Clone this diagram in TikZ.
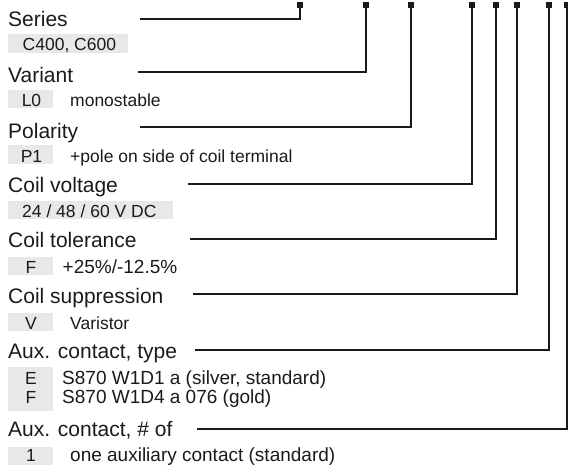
\documentclass[tikz,border=0pt]{standalone}
\usepackage{fontspec}
\setmainfont{Liberation Sans}
\definecolor{ink}{HTML}{1A1A1A}
\definecolor{boxgray}{HTML}{E8E8EA}
\begin{document}
\begin{tikzpicture}[x=1pt,y=-1pt,
  title/.style={anchor=base west,inner sep=0pt,font=\fontsize{21}{25}\selectfont,text=ink},
  sub/.style={anchor=base west,inner sep=0pt,font=\fontsize{17.5}{21}\selectfont,text=ink},
  subwide/.style={anchor=base west,inner sep=0pt,font=\fontsize{19}{22}\selectfont,text=ink},
  code/.style={anchor=base,inner sep=0pt,font=\fontsize{17.5}{21}\selectfont,text=ink},
  marker/.style={rectangle,fill=ink,draw=none,minimum size=6pt,inner sep=0pt},
  lead/.style={draw=ink,line width=1.2pt},
  codebox/.style={fill=boxgray,draw=none}]
\useasboundingbox (0,0) rectangle (568,466);

% grey code boxes
\fill[codebox] (8,33.5) rectangle (128,52.7);
\fill[codebox] (8,89.5) rectangle (53,108.3);
\fill[codebox] (8,145) rectangle (53,163.5);
\fill[codebox] (8,200.7) rectangle (173,219.3);
\fill[codebox] (8,256.7) rectangle (53,274.5);
\fill[codebox] (8,312.7) rectangle (53,330.5);
\fill[codebox] (8,367) rectangle (53,410.7);
\fill[codebox] (8,446.5) rectangle (53,465);

% titles
\node[title] (t1) at (8,26) {Series};
\node[title] (t2) at (8,82) {Variant};
\node[title] (t3) at (8,138) {Polarity};
\node[title] (t4) at (8,192) {Coil voltage};
\node[title] (t5) at (8,247.3) {Coil tolerance};
\node[title] (t6) at (8,303) {Coil suppression};
\node[title] (t7) at (8,358) {Aux. contact, type};
\node[title] (t8) at (8,436.5) {Aux. contact, \# of};

% codes and descriptions
\node[sub] (c1) at (22.5,50.3) {C400, C600};
\node[code] (c2) at (31.5,106.5) {L0};
\node[sub] (d2) at (70,106.5) {monostable};
\node[code] (c3) at (31.5,162) {P1};
\node[sub] (d3) at (70,162) {+pole on side of coil terminal};
\node[sub] (c4) at (22,217.7) {24 / 48 / 60 V DC};
\node[code] (c5) at (31,273.7) {F};
\node[subwide] (d5) at (62.5,273.7) {+25\%/-12.5\%};
\node[code] (c6) at (31,329.7) {V};
\node[sub] (d6) at (70,329.7) {Varistor};
\node[code] (c7a) at (31,384) {E};
\node[subwide] (d7a) at (62,384) {S870 W1D1 a (silver, standard)};
\node[code] (c7b) at (31,403) {F};
\node[subwide] (d7b) at (62,403) {S870 W1D4 a 076 (gold)};
\node[code] (c8) at (31,461.5) {1};
\node[subwide] (d8) at (70,461.5) {one auxiliary contact (standard)};

% markers
\node[marker] (s1) at (300,5) {};
\node[marker] (s2) at (366,5) {};
\node[marker] (s3) at (411,5) {};
\node[marker] (s4) at (472,5) {};
\node[marker] (s5) at (496,5) {};
\node[marker] (s6) at (517,5) {};
\node[marker] (s7) at (549,5) {};
\node[marker] (s8) at (567,5) {};

% leader start points
\coordinate (l1) at (140,19);
\coordinate (l2) at (138,72);
\coordinate (l3) at (140,127);
\coordinate (l4) at (188,184);
\coordinate (l5) at (190,239);
\coordinate (l6) at (193,294);
\coordinate (l7) at (195,350);
\coordinate (l8) at (197,429);

\draw[lead] (l1) -| (s1);
\draw[lead] (l2) -| (s2);
\draw[lead] (l3) -| (s3);
\draw[lead] (l4) -| (s4);
\draw[lead] (l5) -| (s5);
\draw[lead] (l6) -| (s6);
\draw[lead] (l7) -| (s7);
\draw[lead] (l8) -| (s8);
\end{tikzpicture}
\end{document}
